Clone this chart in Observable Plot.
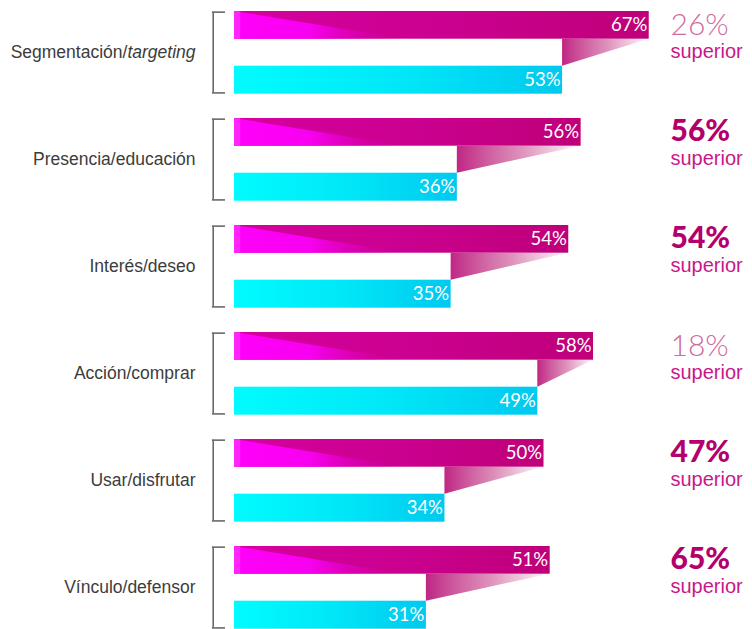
<!DOCTYPE html>
<html>
<head>
<meta charset="utf-8">
<script src="https://cdn.jsdelivr.net/npm/d3@7"></script>
<script src="https://cdn.jsdelivr.net/npm/@observablehq/plot@0.6"></script>
<style>
  html, body { margin: 0; padding: 0; background: #fff; }
  #chart svg { display: block; }
</style>
</head>
<body>
<div id="chart"></div>
<script>
// ---- data ----
const categories = ["Segmentación/targeting", "Presencia/educación", "Interés/deseo", "Acción/comprar", "Usar/disfrutar", "Vínculo/defensor"];
const magentaValues = [67, 56, 54, 58, 50, 51];
const cyanValues = [53, 36, 35, 49, 34, 31];
const upliftLabels = ["26%", "56%", "54%", "18%", "47%", "65%"];
const upliftBold = [false, true, true, false, true, true];
const upliftWord = "superior";

// ---- layout constants (style) ----
const W = 752, H = 629;
const LEFT = 234;
const K = 6.19;                 // pixels per percentage point
const XMAX = (W - LEFT) / K;
const GROUP = 107;              // px per group
const MAG_BOT = 27.7 / GROUP;
const CY_TOP = 54.7 / GROUP;
const CY_BOT = 82.7 / GROUP;
const BRIGHT_LEN = 170 / K;

const rows = categories.map((c, i) => ({
  c, i, m: magentaValues[i], cy: cyanValues[i], u: upliftLabels[i], b: upliftBold[i]
}));

const brightTri = rows.flatMap(d => [
  {g: d.i, y: d.i, x1: 0, x2: 0},
  {g: d.i, y: d.i + MAG_BOT, x1: 0, x2: BRIGHT_LEN}
]);
const connector = rows.flatMap(d => [
  {g: d.i, y: d.i + MAG_BOT, x1: d.cy, x2: d.m},
  {g: d.i, y: d.i + CY_TOP, x1: d.cy, x2: d.cy}
]);

const plot = Plot.plot({
  width: W,
  height: H,
  marginLeft: LEFT,
  marginRight: 0,
  marginTop: 0,
  marginBottom: 0,
  x: {domain: [0, XMAX], axis: null},
  y: {domain: [0, 6], range: [11, 11 + 6 * GROUP], axis: null},
  marks: [
    // magenta bars
    Plot.rect(rows, {x1: 0, x2: "m", y1: d => d.i, y2: d => d.i + MAG_BOT, fill: "url(#gMag)"}),
    Plot.areaX(brightTri, {y: "y", x1: "x1", x2: "x2", z: "g", fill: "url(#gBright)"}),
    Plot.rect(rows, {x1: 0, x2: 1, y1: d => d.i, y2: d => d.i + MAG_BOT, fill: "#ff55ff", fillOpacity: 0.45}),
    // cyan bars
    Plot.rect(rows, {x1: 0, x2: "cy", y1: d => d.i + CY_TOP, y2: d => d.i + CY_BOT, fill: "url(#gCyan)"}),
    // connector
    Plot.areaX(connector, {y: "y", x1: "x1", x2: "x2", z: "g", fill: "url(#gConn)"}),
    // bracket
    Plot.ruleX(rows, {x: 0, dx: -21.3, y1: d => d.i + 0.006, y2: d => d.i + CY_BOT - 0.012, stroke: "#6a6a6a", strokeWidth: 1.6}),
    Plot.ruleY(rows, {y: d => d.i + 0.006, x1: -22.1 / K, x2: -9 / K, stroke: "#6a6a6a", strokeWidth: 1.6}),
    Plot.ruleY(rows, {y: d => d.i + CY_BOT - 0.012, x1: -22.1 / K, x2: -9 / K, stroke: "#6a6a6a", strokeWidth: 1.6}),
    // value labels
    Plot.text(rows, {x: "m", y: d => d.i + MAG_BOT / 2, text: d => d.m + "%", textAnchor: "end", dx: -2, fill: "white", fontSize: 18.5, fontFamily: "Lato", lineAnchor: "middle"}),
    Plot.text(rows, {x: "cy", y: d => d.i + (CY_TOP + CY_BOT) / 2, text: d => d.cy + "%", textAnchor: "end", dx: -2, fill: "white", fontSize: 18.5, fontFamily: "Lato", lineAnchor: "middle"}),
    // category labels
    Plot.text(rows, {x: 0, dx: -39, y: d => d.i + 41 / GROUP, text: "c", textAnchor: "end", lineAnchor: "middle", fontSize: 17.5, fontFamily: "Liberation Sans", fill: "#3c3c3c"}),
    // uplift labels
    Plot.text(rows.filter(d => !d.b), {frameAnchor: "right", dx: -82, y: d => d.i + 23 / GROUP, text: "u", textAnchor: "start", lineAnchor: "bottom", fontSize: 30, fontFamily: "Lato", fontWeight: 300, fill: "#d06a9f"}),
    Plot.text(rows.filter(d => d.b), {frameAnchor: "right", dx: -82, y: d => d.i + 22.5 / GROUP, text: "u", textAnchor: "start", lineAnchor: "bottom", fontSize: 30, fontFamily: "Lato", fontWeight: 900, fill: "#b3006c"}),
    Plot.text(rows, {frameAnchor: "right", dx: -82, y: d => d.i + 46 / GROUP, text: () => upliftWord, textAnchor: "start", lineAnchor: "bottom", fontSize: 20, fontFamily: "Liberation Sans", fill: "#c8188c"})
  ]
});

// gradients
const svg = d3.select(plot);
const defs = svg.insert("defs", ":first-child");
function grad(id, stops) {
  const g = defs.append("linearGradient").attr("id", id).attr("x1", "0").attr("x2", "1").attr("y1", "0").attr("y2", "0");
  stops.forEach(([o, c, op]) => g.append("stop").attr("offset", o).attr("stop-color", c).attr("stop-opacity", op));
}
grad("gMag", [[0, "#d6009f", 1], [0.5, "#cb0090", 1], [1, "#bf0079", 1]]);
grad("gBright", [[0, "#ff00fa", 1], [0.45, "#f800f0", 1], [1, "#d0009a", 0]]);
grad("gCyan", [[0, "#00fcff", 1], [0.5, "#00e8f8", 1], [1, "#00c9ef", 1]]);
grad("gConn", [[0, "#b4006e", 0.85], [0.5, "#c0307f", 0.55], [1, "#c0307f", 0.02]]);

// italic "targeting"
svg.selectAll("text").each(function () {
  const t = d3.select(this);
  if (t.text() === "Segmentación/targeting") {
    t.text(null);
    t.append("tspan").text("Segmentación/");
    t.append("tspan").attr("font-style", "italic").text("targeting");
  }
});

document.getElementById("chart").appendChild(plot);
</script>
</body>
</html>
